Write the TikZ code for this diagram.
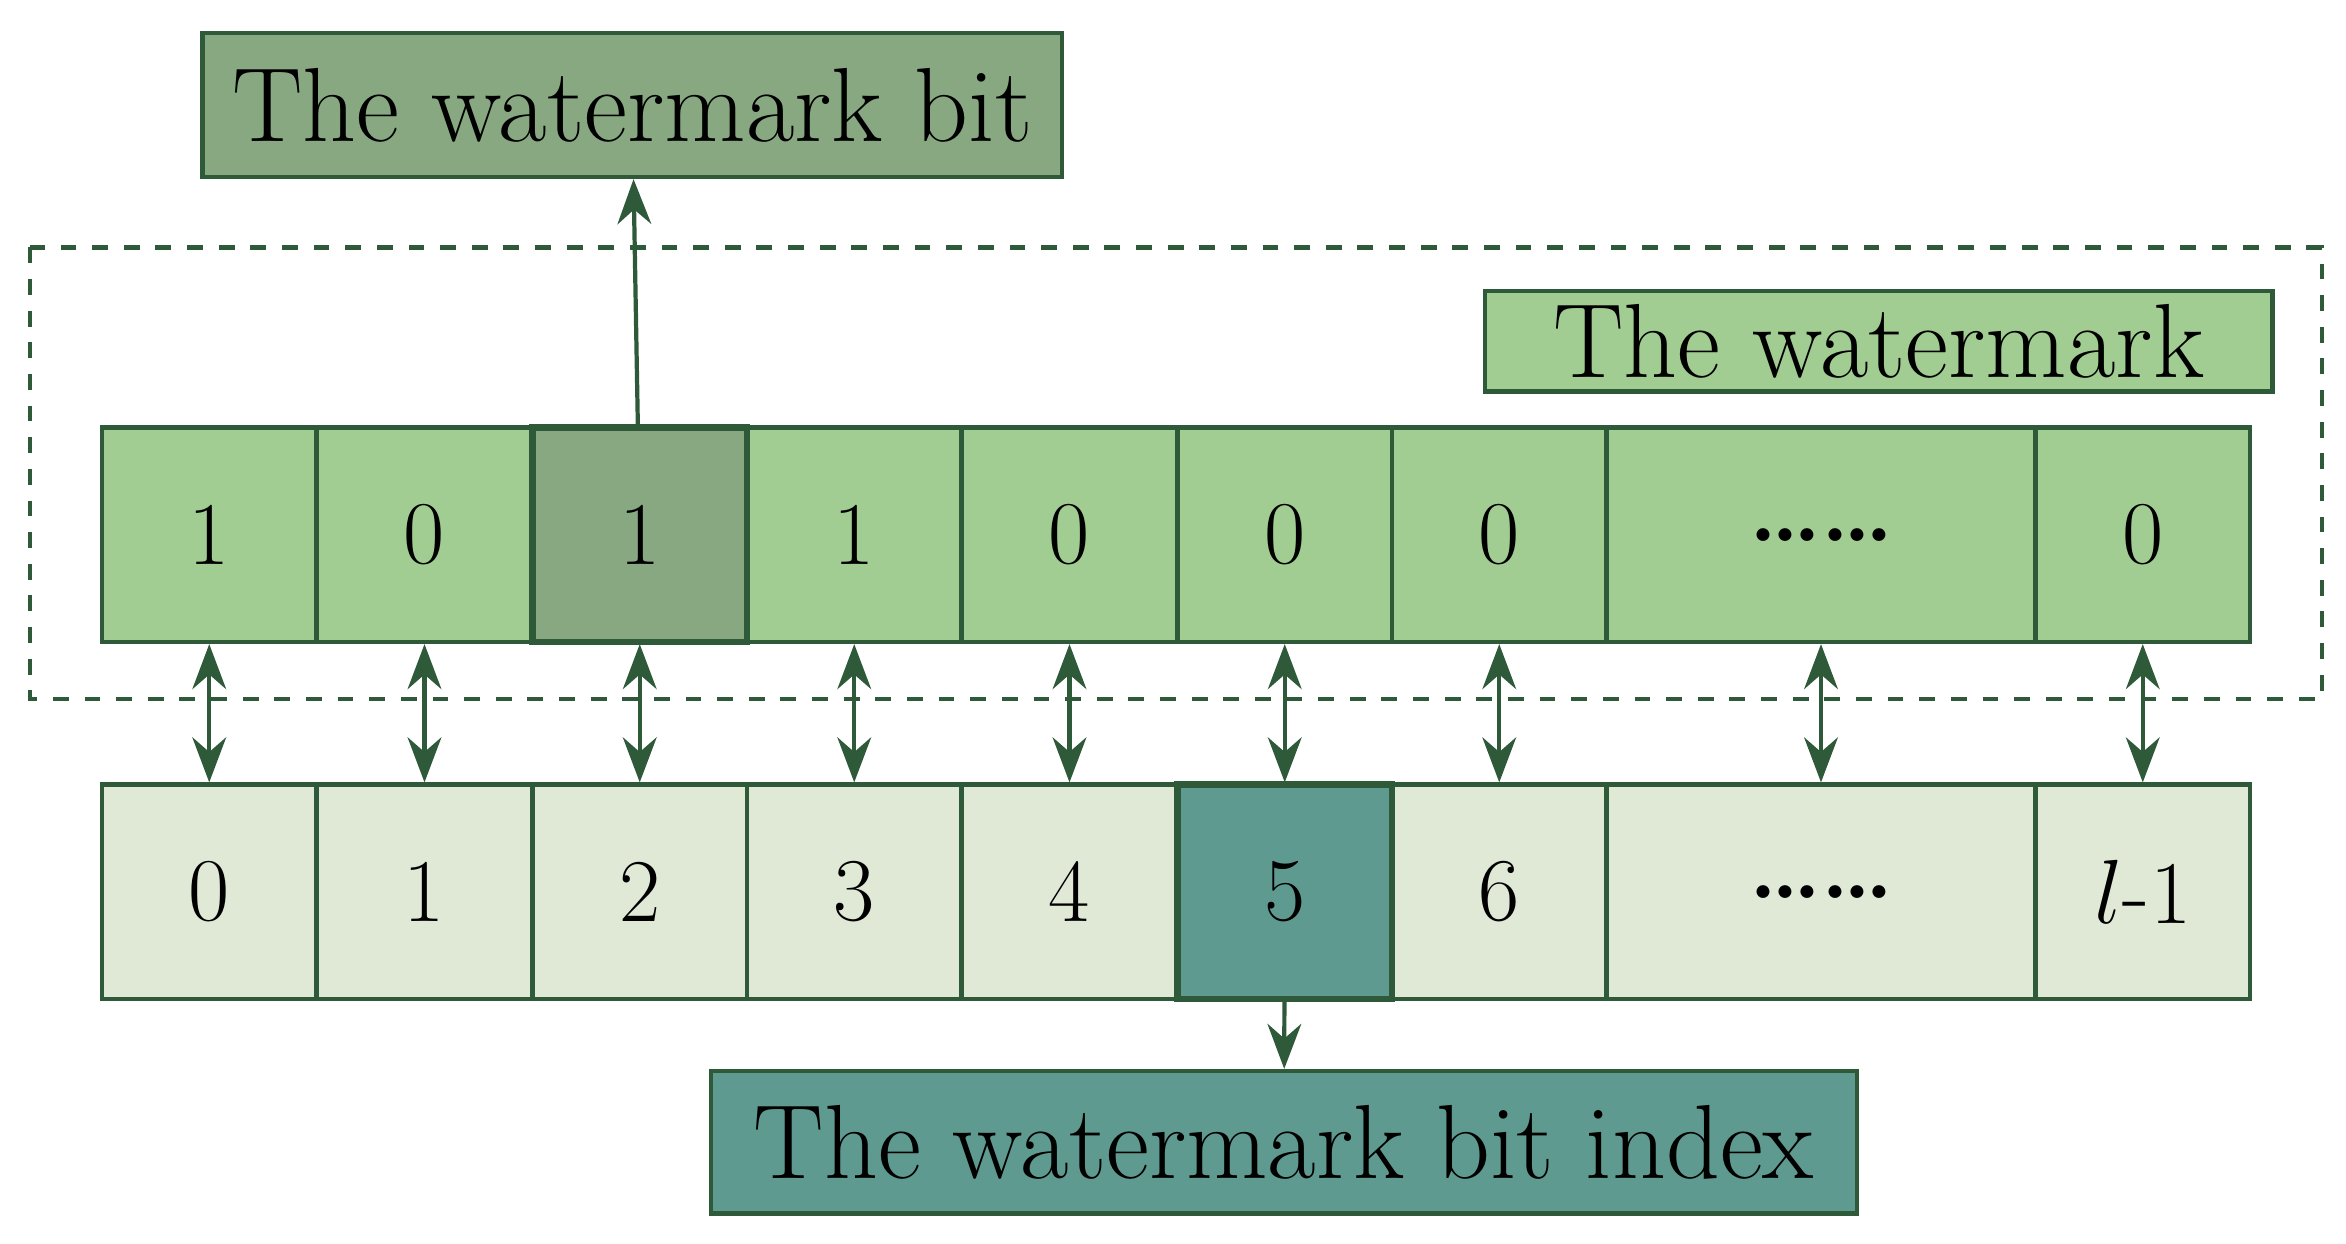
\documentclass[tikz,border=0pt]{standalone}
\usepackage{tikz}
\usetikzlibrary{arrows.meta, positioning, calc}
\definecolor{wmline}{HTML}{2E5A3A}
\definecolor{wmcell}{HTML}{A2CD92}
\definecolor{wmdark}{HTML}{88A882}
\definecolor{idxcell}{HTML}{E0E8D6}
\definecolor{idxdark}{HTML}{5F9A90}

\begin{document}
\begin{tikzpicture}[
    cell/.style={rectangle, draw=wmline, thick, minimum height=1.43cm, inner sep=0pt, font=\fontsize{17}{20}\selectfont},
    label box/.style={rectangle, draw=wmline, thick, inner sep=0pt, font=\fontsize{20}{24}\selectfont},
    arrow/.style={wmline, thick, -{Stealth[length=3mm]}},
    link/.style={wmline, thick, {Stealth[length=3mm]}-{Stealth[length=3mm]}}
]
\useasboundingbox (0,0) rectangle (15.64,-8.29);

% Dashed frame
\draw[wmline, thick, dashed] (0.2,-1.65) rectangle (15.48,-4.66);

% Label boxes
\node[label box, fill=wmdark, minimum width=5.73cm, minimum height=0.96cm] (bit) at (4.215,-0.70) {The watermark bit};
\node[label box, fill=wmcell, minimum width=5.25cm, minimum height=0.67cm] (wm) at (12.525,-2.275) {The watermark};
\node[label box, fill=idxdark, minimum width=7.64cm, minimum height=0.95cm] (index) at (8.56,-7.615) {The watermark bit index};

% Cells
\foreach \i/\xa/\xb/\top/\bot in {1/0.68/2.11/1/0, 2/2.11/3.55/0/1, 3/3.55/4.98/1/2, 4/4.98/6.41/1/3, 5/6.41/7.85/0/4, 6/7.85/9.28/0/5, 7/9.28/10.71/0/6, 8/10.71/13.57/\textbf{\dots\dots}/\textbf{\dots\dots}, 9/13.57/15.00/0/$l$-1} {
  \node[cell, fill=wmcell, minimum width={(\xb-\xa)*1cm}] (t\i) at ({(\xa+\xb)/2},-3.565) {\top};
  \node[cell, fill=idxcell, minimum width={(\xb-\xa)*1cm}] (b\i) at ({(\xa+\xb)/2},-5.945) {\bot};
  \draw[link] (t\i) -- (b\i);
}

% Highlighted cells
\node[cell, fill=wmdark, very thick, minimum width=1.43cm] (tsel) at (t3) {1};
\node[cell, fill=idxdark, very thick, minimum width=1.43cm] (bsel) at (b6) {5};

% Arrows
\draw[arrow] (tsel) -- (bit);
\draw[arrow] (bsel) -- (index);

\end{tikzpicture}
\end{document}
